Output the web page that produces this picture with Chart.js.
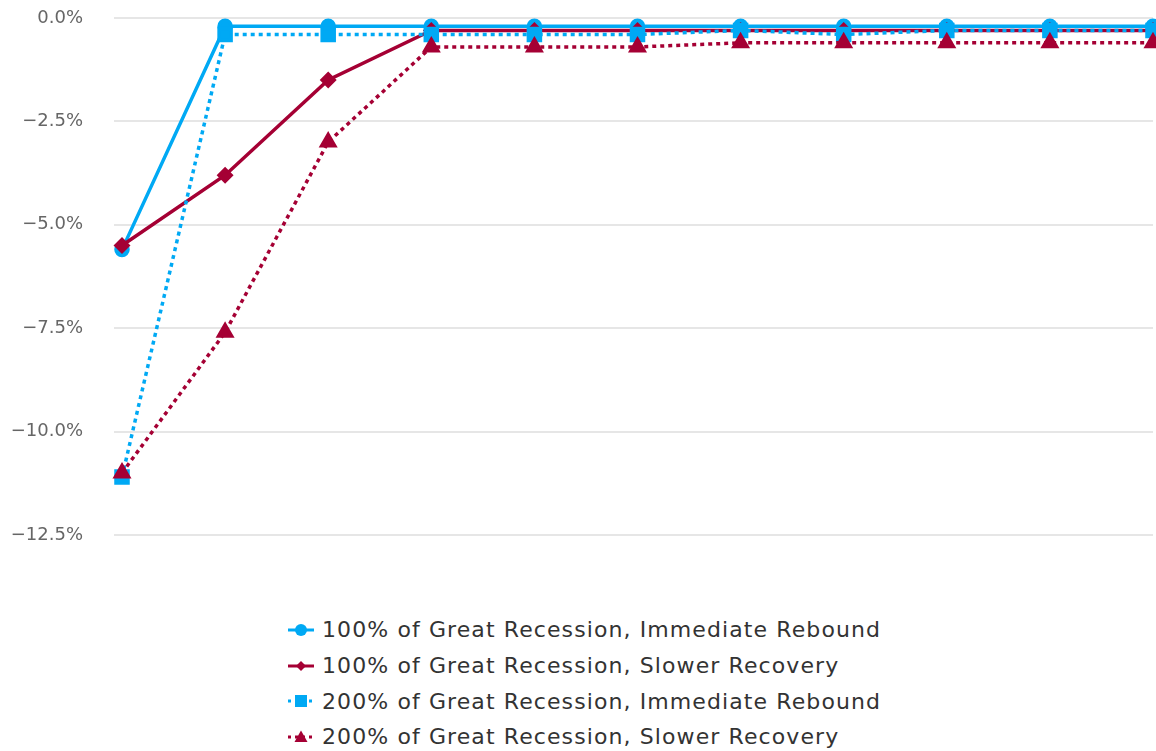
<!DOCTYPE html>
<html>
<head>
<meta charset="utf-8">
<script src="https://cdn.jsdelivr.net/npm/chart.js@4.4.1/dist/chart.umd.min.js"></script>
<style>
  html, body { margin: 0; padding: 0; background: #fff; }
  #wrap { position: relative; width: 1156px; height: 751px; overflow: hidden; }
  #box { position: absolute; left: 0; top: 0; width: 1156px; height: 545px; }
  #legend { position: absolute; left: 288px; top: 612px; font-family: "DejaVu Sans", sans-serif; font-size: 22px; letter-spacing: 1.1px; color: #333; }
  #legend .item { height: 35.7px; display: flex; align-items: center; white-space: nowrap; }
  #legend svg { margin-right: 8px; }
</style>
</head>
<body>
<div id="wrap">
  <div id="box"><canvas id="myChart"></canvas></div>
  <div id="legend"></div>
</div>
<script>
const labels = ['0', '1', '2', '3', '4', '5', '6', '7', '8', '9', '10'];

const rebound100 = [-5.6, -0.2, -0.2, -0.2, -0.2, -0.2, -0.2, -0.2, -0.2, -0.2, -0.2];
const slower100 = [-5.5, -3.8, -1.5, -0.3, -0.3, -0.3, -0.3, -0.3, -0.3, -0.3, -0.3];
const rebound200 = [-11.1, -0.4, -0.4, -0.4, -0.4, -0.4, -0.3, -0.4, -0.3, -0.3, -0.3];
const slower200 = [-11.0, -7.6, -3.0, -0.7, -0.7, -0.7, -0.6, -0.6, -0.6, -0.6, -0.6];

const seriesNames = [
    '100% of Great Recession, Immediate Rebound',
    '100% of Great Recession, Slower Recovery',
    '200% of Great Recession, Immediate Rebound',
    '200% of Great Recession, Slower Recovery'
];

const BLUE = '#00a9f4';
const RED = '#a50034';

const ctx = document.getElementById('myChart');

// order: later series sit on top, like the original
const data = {
    labels: labels,
    datasets: [
        {
            label: seriesNames[0],
            data: rebound100,
            order: 4,
            borderColor: BLUE,
            backgroundColor: BLUE,
            borderWidth: 3.5,
            pointStyle: 'circle',
            pointRadius: 6,
            pointHoverRadius: 6
        },
        {
            label: seriesNames[1],
            data: slower100,
            order: 3,
            borderColor: RED,
            backgroundColor: RED,
            borderWidth: 3.5,
            pointStyle: 'rectRot',
            pointRadius: 6,
            pointHoverRadius: 6
        },
        {
            label: seriesNames[2],
            data: rebound200,
            order: 2,
            borderColor: BLUE,
            backgroundColor: BLUE,
            borderWidth: 3.5,
            borderDash: [4, 4],
            pointStyle: 'rect',
            pointRadius: 8.5,
            pointHoverRadius: 8.5
        },
        {
            label: seriesNames[3],
            data: slower200,
            order: 1,
            borderColor: RED,
            backgroundColor: RED,
            borderWidth: 3.5,
            borderDash: [4, 4],
            pointStyle: 'triangle',
            pointRadius: 7.5,
            pointHoverRadius: 7.5
        }
    ]
};

const options = {
    responsive: true,
    maintainAspectRatio: false,
    animation: false,
    layout: {
        autoPadding: false,
        padding: { top: 18, right: 3, bottom: 10, left: 0 }
    },
    plugins: {
        legend: { display: false },
        tooltip: { enabled: false }
    },
    elements: {
        line: { tension: 0 },
        point: { borderWidth: 0 }
    },
    scales: {
        x: {
            display: false,
            offset: false
        },
        y: {
            min: -12.5,
            max: 0,
            // fixed axis width, and no extra vertical room from the big tick padding
            afterFit: function (axis) {
                axis.width = 122;
                axis.paddingTop = 0;
                axis.paddingBottom = 0;
            },
            border: { display: false },
            grid: {
                color: '#e6e6e6',
                lineWidth: 2,
                tickLength: 8,
                drawTicks: true
            },
            ticks: {
                stepSize: 2.5,
                padding: 31,
                color: '#666666',
                font: { family: 'DejaVu Sans', size: 18 },
                callback: function (v) {
                    const s = Math.abs(v).toFixed(1) + '%';
                    return v < 0 ? '\u2212' + s : s;
                }
            }
        }
    }
};

const lineChart = new Chart(ctx, {
    type: 'line',
    data: data,
    options: options
});

/* legend drawn as html so the rows line up on the left like the original */
function markerSvg(style, color) {
    if (style === 'circle') return '<circle cx="13" cy="10" r="6" fill="' + color + '"/>';
    if (style === 'rectRot') return '<polygon points="13,5 18,10 13,15 8,10" fill="' + color + '"/>';
    if (style === 'rect') return '<rect x="7" y="4" width="12" height="12" fill="' + color + '"/>';
    return '<polygon points="13,3.5 19.5,15 6.5,15" fill="' + color + '"/>';
}

const legendDiv = document.getElementById('legend');
data.datasets.forEach(function (ds) {
    const dash = ds.borderDash ? ' stroke-dasharray="3,4"' : '';
    const item = document.createElement('div');
    item.className = 'item';
    item.innerHTML =
        '<svg width="26" height="20"><line x1="0" y1="10" x2="26" y2="10" stroke="' + ds.borderColor +
        '" stroke-width="3"' + dash + '/>' + markerSvg(ds.pointStyle, ds.borderColor) + '</svg>' +
        '<span>' + ds.label + '</span>';
    legendDiv.appendChild(item);
});
</script>
</body>
</html>
